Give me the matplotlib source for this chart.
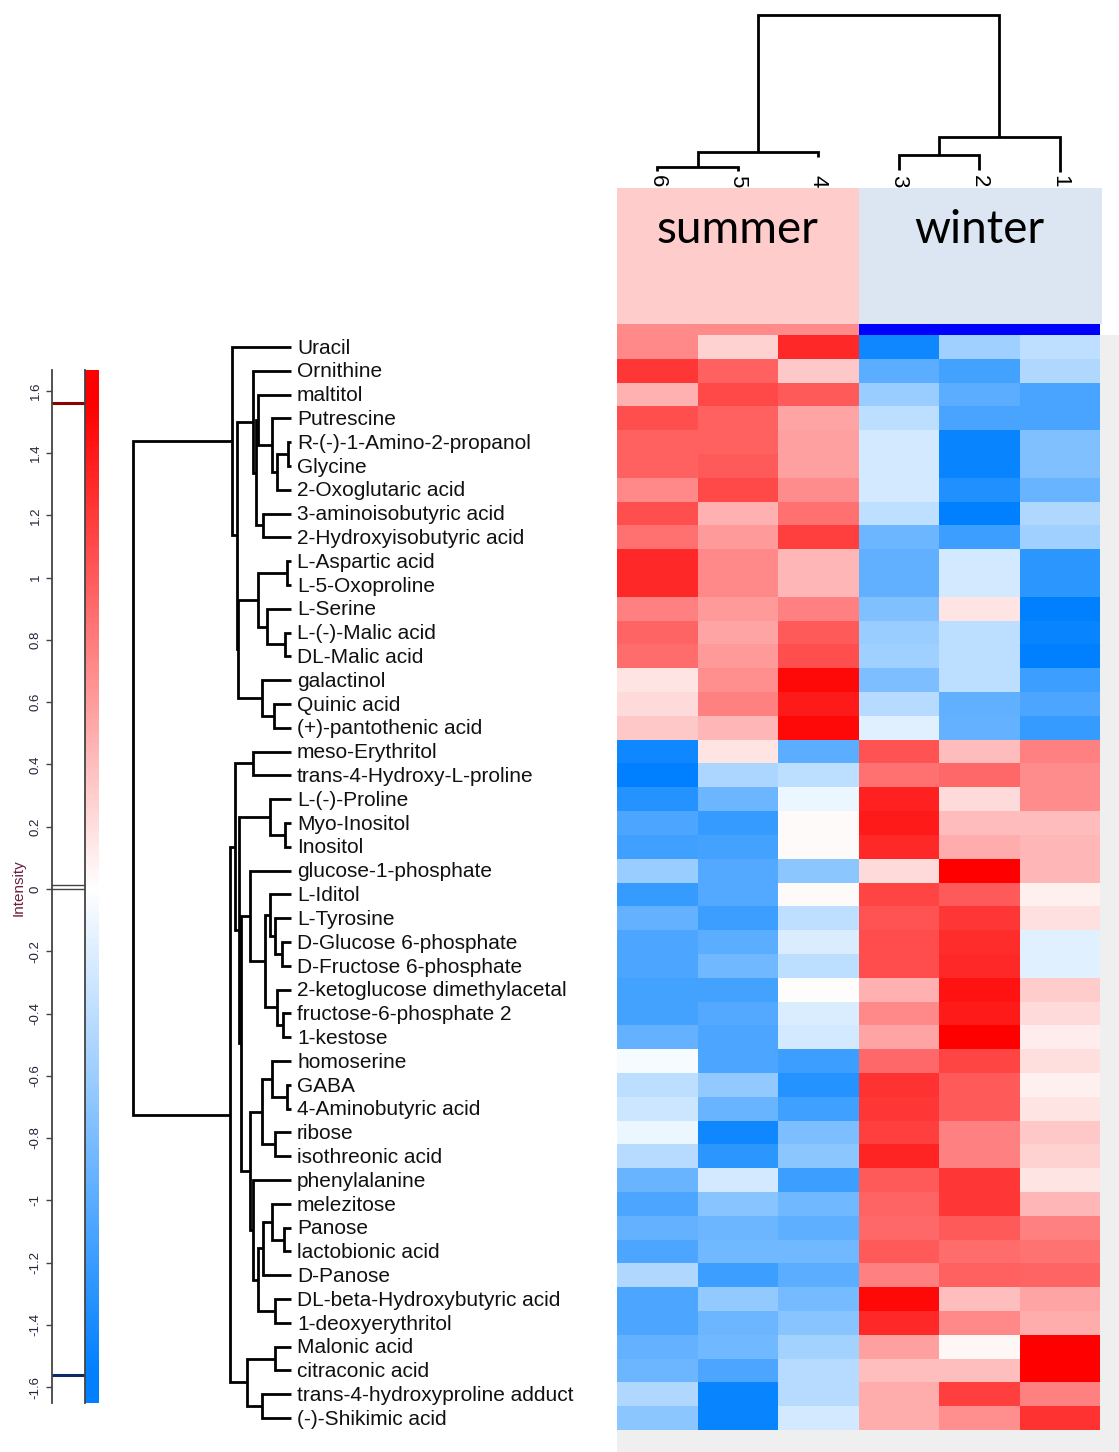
import numpy as np
import matplotlib
matplotlib.use("Agg")
import matplotlib.pyplot as plt
from matplotlib.colors import LinearSegmentedColormap, Normalize
from matplotlib.patches import Rectangle

plt.rcParams['font.family'] = ['Liberation Sans', 'DejaVu Sans']

# ---------------- data ----------------
metabolites = [
    "Uracil", "Ornithine", "maltitol", "Putrescine", "R-(-)-1-Amino-2-propanol",
    "Glycine", "2-Oxoglutaric acid", "3-aminoisobutyric acid", "2-Hydroxyisobutyric acid",
    "L-Aspartic acid", "L-5-Oxoproline", "L-Serine", "L-(-)-Malic acid", "DL-Malic acid",
    "galactinol", "Quinic acid", "(+)-pantothenic acid", "meso-Erythritol",
    "trans-4-Hydroxy-L-proline", "L-(-)-Proline", "Myo-Inositol", "Inositol",
    "glucose-1-phosphate", "L-Iditol", "L-Tyrosine", "D-Glucose 6-phosphate",
    "D-Fructose 6-phosphate", "2-ketoglucose dimethylacetal", "fructose-6-phosphate 2",
    "1-kestose", "homoserine", "GABA", "4-Aminobutyric acid", "ribose", "isothreonic acid",
    "phenylalanine", "melezitose", "Panose", "lactobionic acid", "D-Panose",
    "DL-beta-Hydroxybutyric acid", "1-deoxyerythritol", "Malonic acid", "citraconic acid",
    "trans-4-hydroxyproline adduct", "(-)-Shikimic acid",
]
samples = ["6", "5", "4", "3", "2", "1"]
groups = ["summer", "summer", "summer", "winter", "winter", "winter"]

s6 = [0.73, 1.22, 0.48, 1.08, 0.97, 0.97, 0.73, 1.08, 0.87, 1.31,
      1.31, 0.78, 0.95, 0.90, 0.16, 0.23, 0.34, -1.47, -1.56, -1.33,
      -1.09, -1.17, -0.62, -1.22, -0.95, -1.09, -1.09, -1.14, -1.14, -0.95,
      -0.05, -0.41, -0.31, -0.11, -0.45, -0.92, -1.09, -0.95, -1.09, -0.48,
      -1.09, -1.09, -0.95, -0.90, -0.48, -0.70]
s5 = [0.28, 0.97, 1.12, 0.97, 0.97, 1.01, 1.12, 0.48, 0.61, 0.73,
      0.73, 0.61, 0.56, 0.62, 0.69, 0.78, 0.44, 0.16, -0.51, -0.90,
      -1.22, -1.14, -1.05, -1.05, -1.19, -1.01, -0.87, -1.14, -1.05, -1.09,
      -1.09, -0.66, -0.92, -1.47, -1.29, -0.28, -0.73, -0.90, -0.87, -1.19,
      -0.66, -0.90, -0.87, -1.09, -1.51, -1.51]
s4 = [1.31, 0.34, 1.01, 0.56, 0.58, 0.58, 0.70, 0.87, 1.17, 0.44,
      0.44, 0.78, 1.01, 1.08, 1.51, 1.40, 1.51, -1.01, -0.41, -0.12,
      0.03, 0.03, -0.70, 0.03, -0.39, -0.23, -0.41, 0.02, -0.23, -0.27,
      -1.19, -1.33, -1.17, -0.80, -0.70, -1.19, -0.87, -0.98, -0.87, -1.01,
      -0.83, -0.73, -0.56, -0.45, -0.45, -0.27]
w3 = [-1.47, -1.01, -0.62, -0.41, -0.27, -0.27, -0.28, -0.39, -0.90, -0.97,
      -0.97, -0.78, -0.62, -0.58, -0.80, -0.44, -0.19, 1.05, 0.87, 1.36,
      1.40, 1.31, 0.22, 1.14, 1.05, 1.09, 1.09, 0.48, 0.73, 0.56,
      0.92, 1.25, 1.22, 1.17, 1.34, 1.00, 0.95, 0.92, 1.00, 0.78,
      1.51, 1.31, 0.58, 0.39, 0.51, 0.51]
w2 = [-0.58, -1.14, -1.01, -1.12, -1.50, -1.50, -1.36, -1.56, -1.19, -0.27,
      -0.27, 0.16, -0.41, -0.41, -0.41, -0.97, -0.95, 0.41, 0.92, 0.22,
      0.41, 0.51, 1.56, 1.00, 1.22, 1.29, 1.31, 1.44, 1.40, 1.56,
      1.14, 1.01, 1.01, 0.78, 0.78, 1.22, 1.22, 1.00, 0.90, 0.97,
      0.39, 0.73, 0.06, 0.39, 1.17, 0.69]
w1 = [-0.39, -0.48, -1.12, -1.12, -0.78, -0.78, -0.92, -0.48, -0.58, -1.29,
      -1.29, -1.56, -1.50, -1.56, -1.19, -1.09, -1.22, 0.78, 0.70, 0.70,
      0.41, 0.44, 0.44, 0.09, 0.19, -0.19, -0.19, 0.31, 0.22, 0.11,
      0.20, 0.09, 0.16, 0.34, 0.27, 0.16, 0.45, 0.78, 0.86, 0.95,
      0.56, 0.51, 1.56, 1.56, 0.78, 1.25]

# row dendrogram: (child_a, child_b, height); leaves 0..45, new nodes 46..
row_merges = [
    (4, 5, 0.19), (46, 6, 0.89), (3, 47, 1.20), (2, 48, 2.09), (7, 8, 1.77),
    (49, 50, 2.22), (1, 51, 2.41), (9, 10, 0.25), (12, 13, 0.38), (11, 54, 1.52),
    (53, 55, 2.09), (15, 16, 1.08), (14, 57, 1.84), (56, 58, 3.35), (52, 59, 3.42),
    (0, 60, 3.73),
    (17, 18, 2.41), (20, 21, 0.38), (19, 63, 1.33), (25, 26, 0.57), (24, 65, 1.01),
    (23, 66, 1.33), (28, 29, 0.51), (27, 68, 0.89), (67, 69, 1.65), (22, 70, 2.59),
    (31, 32, 0.25), (30, 72, 1.20), (33, 34, 1.01), (73, 74, 1.84), (37, 38, 0.44),
    (36, 76, 1.20), (77, 39, 1.77), (40, 41, 1.01), (78, 79, 2.09), (35, 80, 2.41),
    (75, 81, 2.59), (71, 82, 3.16), (64, 83, 3.29), (62, 84, 3.54), (42, 43, 1.01),
    (44, 45, 1.84), (86, 87, 2.78), (85, 88, 3.86),
    (61, 89, 10.0),
]
# column dendrogram (leaves in order 6,5,4,3,2,1)
col_merges = [(0, 1, 0.32), (6, 2, 1.27), (3, 4, 1.08), (8, 5, 2.23), (7, 9, 10.0)]
col_leaf_end = [0.08, 0.08, 0.96, 0.10, 0.10, 0.0]

# ---------------- figure ----------------
W, H = 1119, 1452
fig = plt.figure(figsize=(W / 100, H / 100), dpi=100)
fig.patch.set_facecolor('white')


def px_axes(x0, y0, x1, y1):
    return fig.add_axes([x0 / W, 1 - y1 / H, (x1 - x0) / W, (y1 - y0) / H])


cmap = LinearSegmentedColormap.from_list(
    'bwr_int', [(0.0, '#0080ff'), (0.5, '#ffffff'), (1.0, '#ff0000')])
data = np.column_stack([s6, s5, s4, w3, w2, w1])
vlim = np.abs(data).max()
norm = Normalize(-vlim, vlim)
n_rows, n_cols = data.shape

# grey panel behind heatmap
fig.patches.append(Rectangle((617 / W, 0), (W - 617) / W, 1 - 335 / H,
                             transform=fig.transFigure, facecolor='#efefef',
                             edgecolor='none', zorder=-2))

# heatmap
ax_h = px_axes(617, 335, 1100, 1430)
ax_h.pcolormesh(np.arange(n_cols + 1), np.arange(n_rows + 1), data, cmap=cmap,
                norm=norm, edgecolors='face', linewidth=0, antialiased=False)
ax_h.set_xlim(0, n_cols)
ax_h.set_ylim(n_rows, 0)
ax_h.axis('off')

# header boxes and group bar
ax_t = px_axes(617, 188, 1100, 335)
ax_t.set_xlim(0, n_cols)
ax_t.set_ylim(147, 0)
ax_t.axis('off')
ax_t.set_zorder(3)
box_col = {'summer': '#ffcccc', 'winter': '#dce6f2'}
bar_col = {'summer': '#ff8a8a', 'winter': '#0000ff'}
for g in ['summer', 'winter']:
    idx = [i for i, gg in enumerate(groups) if gg == g]
    x0, x1 = min(idx), max(idx) + 1
    ext = 0.03 if g == 'winter' else 0.0
    ax_t.add_patch(Rectangle((x0, 0), x1 - x0 + ext, 136, facecolor=box_col[g],
                             edgecolor='none', clip_on=False))
    ax_t.add_patch(Rectangle((x0, 136), x1 - x0, 11, facecolor=bar_col[g],
                             edgecolor='none', clip_on=False))
    ax_t.text((x0 + x1) / 2, 42, g, ha='center', va='center', fontsize=33,
              family='Lato', color='black')


def draw_dendro(ax, merges, leaf_pos, leaf_h, horizontal):
    pos = list(leaf_pos)
    hh = list(leaf_h)
    for a, b, d in merges:
        pa, pb = pos[a], pos[b]
        if horizontal:
            xs, ys = [hh[a], d, d, hh[b]], [pa, pa, pb, pb]
        else:
            xs, ys = [pa, pa, pb, pb], [hh[a], d, d, hh[b]]
        ax.plot(xs, ys, color='black', lw=2.0, solid_joinstyle='miter',
                solid_capstyle='butt', clip_on=False)
        pos.append((pa + pb) / 2)
        hh.append(d)


# column dendrogram
ax_cd = px_axes(617, 15, 1100, 172)
ax_cd.set_xlim(0, n_cols)
ax_cd.set_ylim(0, 10)
ax_cd.axis('off')
ax_cd.set_zorder(1)
draw_dendro(ax_cd, col_merges, [i + 0.5 for i in range(n_cols)], col_leaf_end, False)
for i, s in enumerate(samples):
    ax_cd.text(i + 0.5, -0.2, s, rotation=-90, ha='center', va='top',
               fontsize=16, color='black', clip_on=False)

# row dendrogram + labels
ax_rd = px_axes(133, 335, 291, 1430)
ax_rd.set_xlim(10, 0)
ax_rd.set_ylim(n_rows, 0)
ax_rd.axis('off')
draw_dendro(ax_rd, row_merges, [i + 0.5 for i in range(n_rows)], [0.0] * n_rows, True)
for i, name in enumerate(metabolites):
    ax_rd.text(-0.38, i + 0.55, name, ha='left', va='center', fontsize=15,
               color='#111111', clip_on=False)

# colour scale
lo, hi = -1.651, 1.667
ax_cb = px_axes(85, 370, 98, 1403)
grad = np.linspace(lo, hi, 600).reshape(-1, 1)
ax_cb.imshow(grad, cmap=cmap, norm=norm, aspect='auto', origin='lower',
             extent=[0, 1, lo, hi], interpolation='bilinear')
ax_cb.set_ylim(lo, hi)
ax_cb.axis('off')

ax_sc = px_axes(52, 370, 85, 1403)
ax_sc.set_ylim(lo, hi)
ax_sc.set_xlim(0, 1)
for sp in ['top', 'bottom']:
    ax_sc.spines[sp].set_visible(False)
for sp in ['left', 'right']:
    ax_sc.spines[sp].set_color('#444444')
    ax_sc.spines[sp].set_linewidth(1.3)
ticks = np.round(np.arange(-1.6, 1.61, 0.2), 1)
ax_sc.set_yticks(ticks)
ax_sc.set_yticklabels([f"{t:g}" if abs(t) > 1e-9 else "0" for t in ticks],
                      rotation=90, va='center', fontsize=9.5, color='#24243a')
ax_sc.tick_params(axis='y', length=4.5, width=1.0, color='#444444', pad=3)
ax_sc.set_xticks([])
ax_sc.axhline(data.max(), color='#8b0000', lw=2.2)
ax_sc.axhline(data.min(), color='#0a2a6a', lw=2.2)
ax_sc.axhline(0.0, color='#444444', lw=1.0)
ax_sc.axhline(0.012, color='#444444', lw=1.0)
ax_sc.patch.set_alpha(0)

fig.text(19 / W, 1 - 888 / H, "Intensity", rotation=90, ha='center', va='center',
         fontsize=11, color='#6b1f3f')

fig.savefig("out.png", dpi=100)
